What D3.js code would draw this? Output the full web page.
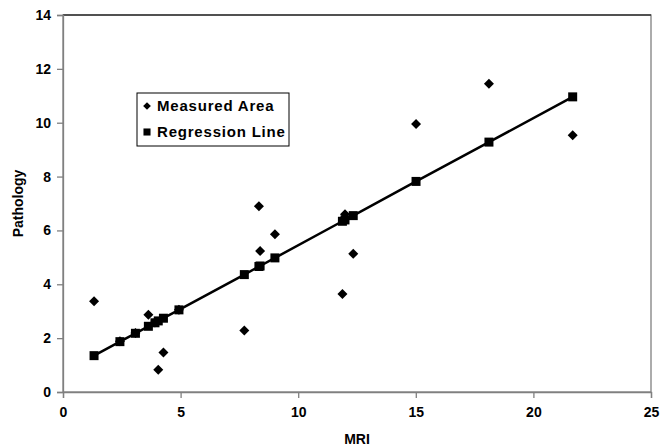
<!DOCTYPE html>
<html>
<head>
<meta charset="utf-8">
<script src="https://cdn.jsdelivr.net/npm/d3@7"></script>
<style>
  html, body { margin: 0; padding: 0; background: #fff; }
  svg { display: block; font-family: "Liberation Sans", Arial, sans-serif; }
</style>
</head>
<body>
<svg id="chart" width="661" height="448"></svg>
<script>
// values
const mriValues = [1.32, 2.42, 3.08, 3.63, 3.91, 4.05, 4.27, 4.93, 7.71, 8.33, 8.38, 9.01, 11.88, 11.99, 12.34, 15.01, 18.11, 21.67];
const measuredArea = [3.37, 1.88, 2.19, 2.87, 2.58, 0.83, 1.47, 3.05, 2.28, 6.90, 5.24, 5.86, 3.64, 6.60, 5.13, 9.95, 11.45, 9.53];
const regressionLine = [1.35, 1.87, 2.18, 2.44, 2.57, 2.64, 2.74, 3.05, 4.36, 4.66, 4.68, 4.98, 6.34, 6.39, 6.55, 7.82, 9.28, 10.96];

const xTicks = [0, 5, 10, 15, 20, 25];
const yTicks = [0, 2, 4, 6, 8, 10, 12, 14];

const svg = d3.select('#chart');

// plot area
const plotLeft = 63, plotRight = 651, plotTop = 15, plotBottom = 392;

const x = d3.scaleLinear().domain([0, 25]).range([plotLeft, plotRight]);
const y = d3.scaleLinear().domain([0, 14]).range([plotBottom, plotTop]);

// frame
svg.append('rect')
    .attr('x', plotLeft).attr('y', plotTop)
    .attr('width', plotRight - plotLeft).attr('height', plotBottom - plotTop)
    .attr('fill', 'none')
    .attr('stroke', '#808080')
    .attr('stroke-width', 1.3);
svg.append('line')
    .attr('x1', plotLeft).attr('x2', plotRight)
    .attr('y1', plotTop).attr('y2', plotTop)
    .attr('stroke', '#333')
    .attr('stroke-width', 1.3);

// axes
const xAxis = d3.axisBottom(x).tickValues(xTicks).tickSize(6).tickPadding(9);
const yAxis = d3.axisLeft(y).tickValues(yTicks).tickSize(6).tickPadding(6);

const gx = svg.append('g').attr('transform', `translate(0,${plotBottom})`).call(xAxis);
const gy = svg.append('g').attr('transform', `translate(${plotLeft},0)`).call(yAxis);

[gx, gy].forEach(g => {
    g.select('.domain').attr('stroke', '#808080').attr('stroke-width', 1.3);
    g.selectAll('.tick line').attr('stroke', '#808080').attr('stroke-width', 1.3);
    g.selectAll('.tick text')
        .attr('fill', '#000')
        .style('font-family', '"Liberation Sans", Arial, sans-serif')
        .style('font-size', '14px')
        .style('font-weight', 'bold');
});

// axis titles
svg.append('text')
    .attr('x', (plotLeft + plotRight) / 2)
    .attr('y', 444)
    .attr('text-anchor', 'middle')
    .style('font-size', '14px')
    .style('font-weight', 'bold')
    .text('MRI');

svg.append('text')
    .attr('transform', `translate(23,${(plotTop + plotBottom) / 2}) rotate(-90)`)
    .attr('text-anchor', 'middle')
    .style('font-size', '14px')
    .style('font-weight', 'bold')
    .text('Pathology');

// regression line
const line = d3.line()
    .x((d, i) => x(mriValues[i]))
    .y(d => y(d));

svg.append('path')
    .datum(regressionLine)
    .attr('d', line)
    .attr('fill', 'none')
    .attr('stroke', '#000')
    .attr('stroke-width', 2.5);

const diamond = d3.symbol(d3.symbolSquare, 50);
const square = d3.symbol(d3.symbolSquare, 81);

// measured area points
svg.append('g').selectAll('path')
    .data(measuredArea)
    .join('path')
    .attr('d', diamond)
    .attr('transform', (d, i) => `translate(${x(mriValues[i])},${y(d)}) rotate(45)`)
    .attr('fill', '#000');

// regression points
svg.append('g').selectAll('path')
    .data(regressionLine)
    .join('path')
    .attr('d', square)
    .attr('transform', (d, i) => `translate(${x(mriValues[i])},${y(d)})`)
    .attr('fill', '#000');

// legend
const legend = svg.append('g');
legend.append('rect')
    .attr('x', 137).attr('y', 93)
    .attr('width', 152).attr('height', 53)
    .attr('fill', '#fff')
    .attr('stroke', '#000')
    .attr('stroke-width', 1);

legend.append('path')
    .attr('d', d3.symbol(d3.symbolSquare, 30))
    .attr('transform', 'translate(147,106) rotate(45)');
legend.append('path')
    .attr('d', d3.symbol(d3.symbolSquare, 50))
    .attr('transform', 'translate(147,132)');

legend.append('text')
    .attr('x', 157).attr('y', 111)
    .style('font-size', '15px')
    .style('font-weight', 'bold')
    .style('letter-spacing', '0.8px')
    .text('Measured Area');
legend.append('text')
    .attr('x', 157).attr('y', 137)
    .style('font-size', '15px')
    .style('font-weight', 'bold')
    .style('letter-spacing', '0.8px')
    .text('Regression Line');
</script>
</body>
</html>
